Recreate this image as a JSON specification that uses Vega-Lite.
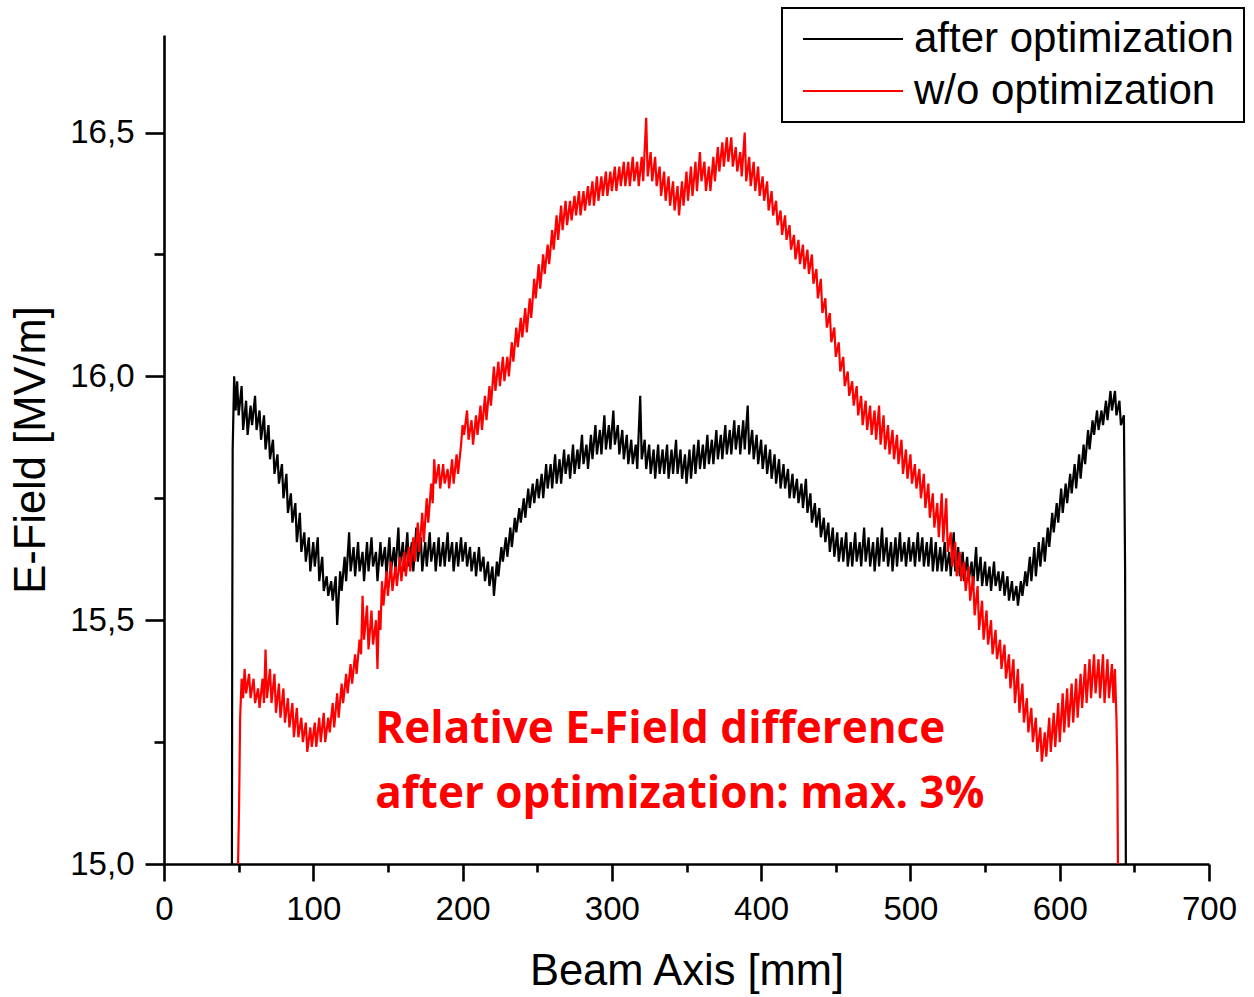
{
"$schema": "https://vega.github.io/schema/vega-lite/v6.json",
"width": 1045, "height": 829,
"autosize": {"type": "none"},
"padding": {"left": 164, "top": 35, "right": 45, "bottom": 133},
"background": "white",
"config": {
  "view": {"stroke": null},
  "axis": {"domainColor": "black", "tickColor": "black", "labelColor": "black", "titleColor": "black", "domainWidth": 2.6, "tickWidth": 2.6, "grid": false, "labelFlush": false, "labelFont": "Liberation Sans", "titleFont": "Liberation Sans", "labelFontSize": 33, "titleFontSize": 43.5, "titleFontWeight": "normal"}
},
"resolve": {"axis": {"x": "independent", "y": "independent"}},
"layer": [
{
"data": {"values": [
{"s":"a","x":45.5,"y":15.0},{"s":"a","x":45.7,"y":15.45},{"s":"a","x":46,"y":15.85},{"s":"a","x":47,"y":16.0},{"s":"a","x":48,"y":15.93},{"s":"a","x":49,"y":15.99},{"s":"a","x":50,"y":15.92},{"s":"a","x":52,"y":15.98},{"s":"a","x":53,"y":15.89},{"s":"a","x":55,"y":15.95},{"s":"a","x":56,"y":15.88},{"s":"a","x":58,"y":15.94},{"s":"a","x":59,"y":15.90},{"s":"a","x":61,"y":15.96},{"s":"a","x":62,"y":15.89},{"s":"a","x":64,"y":15.93},{"s":"a","x":65,"y":15.87},{"s":"a","x":67,"y":15.92},{"s":"a","x":68,"y":15.85},{"s":"a","x":70,"y":15.90},{"s":"a","x":71,"y":15.83},{"s":"a","x":73,"y":15.87},{"s":"a","x":74,"y":15.80},{"s":"a","x":76,"y":15.84},{"s":"a","x":77,"y":15.78},{"s":"a","x":79,"y":15.82},{"s":"a","x":80,"y":15.75},{"s":"a","x":82,"y":15.80},{"s":"a","x":83,"y":15.72},{"s":"a","x":85,"y":15.76},{"s":"a","x":86,"y":15.70},{"s":"a","x":88,"y":15.74},{"s":"a","x":89,"y":15.66},{"s":"a","x":91,"y":15.72},{"s":"a","x":92,"y":15.64},{"s":"a","x":94,"y":15.68},{"s":"a","x":95,"y":15.62},{"s":"a","x":97,"y":15.67},{"s":"a","x":98,"y":15.60},{"s":"a","x":100,"y":15.66},{"s":"a","x":101,"y":15.61},{"s":"a","x":103,"y":15.67},{"s":"a","x":104,"y":15.58},{"s":"a","x":106,"y":15.63},{"s":"a","x":107,"y":15.56},{"s":"a","x":109,"y":15.59},{"s":"a","x":110,"y":15.55},{"s":"a","x":112,"y":15.58},{"s":"a","x":113,"y":15.54},{"s":"a","x":115,"y":15.59},{"s":"a","x":116,"y":15.49},{"s":"a","x":118,"y":15.60},{"s":"a","x":119,"y":15.56},{"s":"a","x":121,"y":15.63},{"s":"a","x":122,"y":15.58},{"s":"a","x":124,"y":15.68},{"s":"a","x":125,"y":15.60},{"s":"a","x":127,"y":15.65},{"s":"a","x":128,"y":15.59},{"s":"a","x":130,"y":15.66},{"s":"a","x":131,"y":15.60},{"s":"a","x":133,"y":15.64},{"s":"a","x":134,"y":15.58},{"s":"a","x":136,"y":15.66},{"s":"a","x":137,"y":15.60},{"s":"a","x":139,"y":15.67},{"s":"a","x":140,"y":15.61},{"s":"a","x":142,"y":15.64},{"s":"a","x":143,"y":15.58},{"s":"a","x":145,"y":15.66},{"s":"a","x":146,"y":15.61},{"s":"a","x":148,"y":15.65},{"s":"a","x":149,"y":15.59},{"s":"a","x":151,"y":15.67},{"s":"a","x":152,"y":15.60},{"s":"a","x":154,"y":15.65},{"s":"a","x":155,"y":15.60},{"s":"a","x":157,"y":15.69},{"s":"a","x":158,"y":15.61},{"s":"a","x":160,"y":15.66},{"s":"a","x":161,"y":15.60},{"s":"a","x":163,"y":15.68},{"s":"a","x":164,"y":15.61},{"s":"a","x":166,"y":15.66},{"s":"a","x":167,"y":15.60},{"s":"a","x":169,"y":15.69},{"s":"a","x":170,"y":15.62},{"s":"a","x":172,"y":15.67},{"s":"a","x":173,"y":15.60},{"s":"a","x":175,"y":15.66},{"s":"a","x":176,"y":15.61},{"s":"a","x":178,"y":15.68},{"s":"a","x":179,"y":15.62},{"s":"a","x":181,"y":15.66},{"s":"a","x":182,"y":15.60},{"s":"a","x":184,"y":15.67},{"s":"a","x":185,"y":15.61},{"s":"a","x":187,"y":15.66},{"s":"a","x":188,"y":15.61},{"s":"a","x":190,"y":15.68},{"s":"a","x":191,"y":15.62},{"s":"a","x":193,"y":15.66},{"s":"a","x":194,"y":15.60},{"s":"a","x":196,"y":15.66},{"s":"a","x":197,"y":15.61},{"s":"a","x":199,"y":15.67},{"s":"a","x":200,"y":15.62},{"s":"a","x":202,"y":15.66},{"s":"a","x":203,"y":15.61},{"s":"a","x":205,"y":15.65},{"s":"a","x":206,"y":15.60},{"s":"a","x":208,"y":15.64},{"s":"a","x":209,"y":15.59},{"s":"a","x":211,"y":15.65},{"s":"a","x":212,"y":15.60},{"s":"a","x":214,"y":15.63},{"s":"a","x":215,"y":15.58},{"s":"a","x":217,"y":15.62},{"s":"a","x":218,"y":15.57},{"s":"a","x":220,"y":15.61},{"s":"a","x":221,"y":15.55},{"s":"a","x":223,"y":15.62},{"s":"a","x":224,"y":15.59},{"s":"a","x":226,"y":15.65},{"s":"a","x":227,"y":15.62},{"s":"a","x":229,"y":15.67},{"s":"a","x":230,"y":15.63},{"s":"a","x":232,"y":15.69},{"s":"a","x":233,"y":15.65},{"s":"a","x":235,"y":15.71},{"s":"a","x":236,"y":15.68},{"s":"a","x":238,"y":15.73},{"s":"a","x":239,"y":15.70},{"s":"a","x":241,"y":15.75},{"s":"a","x":242,"y":15.71},{"s":"a","x":244,"y":15.77},{"s":"a","x":245,"y":15.73},{"s":"a","x":247,"y":15.78},{"s":"a","x":248,"y":15.74},{"s":"a","x":250,"y":15.79},{"s":"a","x":251,"y":15.75},{"s":"a","x":253,"y":15.80},{"s":"a","x":254,"y":15.75},{"s":"a","x":256,"y":15.82},{"s":"a","x":257,"y":15.77},{"s":"a","x":259,"y":15.82},{"s":"a","x":260,"y":15.77},{"s":"a","x":262,"y":15.84},{"s":"a","x":263,"y":15.78},{"s":"a","x":265,"y":15.83},{"s":"a","x":266,"y":15.78},{"s":"a","x":268,"y":15.85},{"s":"a","x":269,"y":15.80},{"s":"a","x":271,"y":15.84},{"s":"a","x":272,"y":15.79},{"s":"a","x":274,"y":15.86},{"s":"a","x":275,"y":15.80},{"s":"a","x":277,"y":15.85},{"s":"a","x":278,"y":15.81},{"s":"a","x":280,"y":15.88},{"s":"a","x":281,"y":15.82},{"s":"a","x":283,"y":15.86},{"s":"a","x":284,"y":15.81},{"s":"a","x":286,"y":15.88},{"s":"a","x":287,"y":15.83},{"s":"a","x":289,"y":15.90},{"s":"a","x":290,"y":15.84},{"s":"a","x":292,"y":15.89},{"s":"a","x":293,"y":15.84},{"s":"a","x":295,"y":15.92},{"s":"a","x":296,"y":15.85},{"s":"a","x":298,"y":15.90},{"s":"a","x":299,"y":15.85},{"s":"a","x":301,"y":15.93},{"s":"a","x":302,"y":15.86},{"s":"a","x":304,"y":15.90},{"s":"a","x":305,"y":15.84},{"s":"a","x":307,"y":15.89},{"s":"a","x":308,"y":15.83},{"s":"a","x":310,"y":15.88},{"s":"a","x":311,"y":15.82},{"s":"a","x":313,"y":15.87},{"s":"a","x":314,"y":15.82},{"s":"a","x":316,"y":15.86},{"s":"a","x":317,"y":15.81},{"s":"a","x":319,"y":15.96},{"s":"a","x":320,"y":15.83},{"s":"a","x":322,"y":15.87},{"s":"a","x":323,"y":15.81},{"s":"a","x":325,"y":15.86},{"s":"a","x":326,"y":15.80},{"s":"a","x":328,"y":15.85},{"s":"a","x":329,"y":15.79},{"s":"a","x":331,"y":15.86},{"s":"a","x":332,"y":15.80},{"s":"a","x":334,"y":15.85},{"s":"a","x":335,"y":15.80},{"s":"a","x":337,"y":15.86},{"s":"a","x":338,"y":15.79},{"s":"a","x":340,"y":15.85},{"s":"a","x":341,"y":15.80},{"s":"a","x":343,"y":15.87},{"s":"a","x":344,"y":15.80},{"s":"a","x":346,"y":15.85},{"s":"a","x":347,"y":15.79},{"s":"a","x":349,"y":15.84},{"s":"a","x":350,"y":15.78},{"s":"a","x":352,"y":15.85},{"s":"a","x":353,"y":15.79},{"s":"a","x":355,"y":15.86},{"s":"a","x":356,"y":15.80},{"s":"a","x":358,"y":15.87},{"s":"a","x":359,"y":15.81},{"s":"a","x":361,"y":15.86},{"s":"a","x":362,"y":15.81},{"s":"a","x":364,"y":15.88},{"s":"a","x":365,"y":15.82},{"s":"a","x":367,"y":15.87},{"s":"a","x":368,"y":15.82},{"s":"a","x":370,"y":15.89},{"s":"a","x":371,"y":15.83},{"s":"a","x":373,"y":15.88},{"s":"a","x":374,"y":15.83},{"s":"a","x":376,"y":15.90},{"s":"a","x":377,"y":15.84},{"s":"a","x":379,"y":15.89},{"s":"a","x":380,"y":15.84},{"s":"a","x":382,"y":15.91},{"s":"a","x":383,"y":15.85},{"s":"a","x":385,"y":15.90},{"s":"a","x":386,"y":15.84},{"s":"a","x":388,"y":15.91},{"s":"a","x":389,"y":15.85},{"s":"a","x":391,"y":15.94},{"s":"a","x":392,"y":15.84},{"s":"a","x":394,"y":15.89},{"s":"a","x":395,"y":15.83},{"s":"a","x":397,"y":15.88},{"s":"a","x":398,"y":15.82},{"s":"a","x":400,"y":15.87},{"s":"a","x":401,"y":15.81},{"s":"a","x":403,"y":15.86},{"s":"a","x":404,"y":15.80},{"s":"a","x":406,"y":15.85},{"s":"a","x":407,"y":15.79},{"s":"a","x":409,"y":15.84},{"s":"a","x":410,"y":15.78},{"s":"a","x":412,"y":15.83},{"s":"a","x":413,"y":15.77},{"s":"a","x":415,"y":15.82},{"s":"a","x":416,"y":15.77},{"s":"a","x":418,"y":15.81},{"s":"a","x":419,"y":15.75},{"s":"a","x":421,"y":15.80},{"s":"a","x":422,"y":15.75},{"s":"a","x":424,"y":15.79},{"s":"a","x":425,"y":15.74},{"s":"a","x":427,"y":15.78},{"s":"a","x":428,"y":15.73},{"s":"a","x":430,"y":15.79},{"s":"a","x":431,"y":15.72},{"s":"a","x":433,"y":15.76},{"s":"a","x":434,"y":15.70},{"s":"a","x":436,"y":15.74},{"s":"a","x":437,"y":15.69},{"s":"a","x":439,"y":15.73},{"s":"a","x":440,"y":15.67},{"s":"a","x":442,"y":15.71},{"s":"a","x":443,"y":15.66},{"s":"a","x":445,"y":15.70},{"s":"a","x":446,"y":15.64},{"s":"a","x":448,"y":15.69},{"s":"a","x":449,"y":15.63},{"s":"a","x":451,"y":15.68},{"s":"a","x":452,"y":15.62},{"s":"a","x":454,"y":15.67},{"s":"a","x":455,"y":15.62},{"s":"a","x":457,"y":15.68},{"s":"a","x":458,"y":15.61},{"s":"a","x":460,"y":15.66},{"s":"a","x":461,"y":15.61},{"s":"a","x":463,"y":15.68},{"s":"a","x":464,"y":15.62},{"s":"a","x":466,"y":15.66},{"s":"a","x":467,"y":15.61},{"s":"a","x":469,"y":15.69},{"s":"a","x":470,"y":15.62},{"s":"a","x":472,"y":15.67},{"s":"a","x":473,"y":15.61},{"s":"a","x":475,"y":15.66},{"s":"a","x":476,"y":15.60},{"s":"a","x":478,"y":15.67},{"s":"a","x":479,"y":15.61},{"s":"a","x":481,"y":15.69},{"s":"a","x":482,"y":15.62},{"s":"a","x":484,"y":15.67},{"s":"a","x":485,"y":15.61},{"s":"a","x":487,"y":15.66},{"s":"a","x":488,"y":15.60},{"s":"a","x":490,"y":15.67},{"s":"a","x":491,"y":15.61},{"s":"a","x":493,"y":15.68},{"s":"a","x":494,"y":15.62},{"s":"a","x":496,"y":15.66},{"s":"a","x":497,"y":15.61},{"s":"a","x":499,"y":15.67},{"s":"a","x":500,"y":15.62},{"s":"a","x":502,"y":15.66},{"s":"a","x":503,"y":15.61},{"s":"a","x":505,"y":15.68},{"s":"a","x":506,"y":15.62},{"s":"a","x":508,"y":15.67},{"s":"a","x":509,"y":15.61},{"s":"a","x":511,"y":15.66},{"s":"a","x":512,"y":15.61},{"s":"a","x":514,"y":15.67},{"s":"a","x":515,"y":15.60},{"s":"a","x":517,"y":15.66},{"s":"a","x":518,"y":15.60},{"s":"a","x":520,"y":15.65},{"s":"a","x":521,"y":15.60},{"s":"a","x":523,"y":15.66},{"s":"a","x":524,"y":15.60},{"s":"a","x":526,"y":15.64},{"s":"a","x":527,"y":15.59},{"s":"a","x":529,"y":15.68},{"s":"a","x":530,"y":15.60},{"s":"a","x":532,"y":15.65},{"s":"a","x":533,"y":15.59},{"s":"a","x":535,"y":15.64},{"s":"a","x":536,"y":15.58},{"s":"a","x":538,"y":15.63},{"s":"a","x":539,"y":15.58},{"s":"a","x":541,"y":15.62},{"s":"a","x":542,"y":15.57},{"s":"a","x":544,"y":15.65},{"s":"a","x":545,"y":15.58},{"s":"a","x":547,"y":15.63},{"s":"a","x":548,"y":15.57},{"s":"a","x":550,"y":15.62},{"s":"a","x":551,"y":15.57},{"s":"a","x":553,"y":15.61},{"s":"a","x":554,"y":15.56},{"s":"a","x":556,"y":15.62},{"s":"a","x":557,"y":15.57},{"s":"a","x":559,"y":15.60},{"s":"a","x":560,"y":15.56},{"s":"a","x":562,"y":15.60},{"s":"a","x":563,"y":15.55},{"s":"a","x":565,"y":15.59},{"s":"a","x":566,"y":15.54},{"s":"a","x":568,"y":15.58},{"s":"a","x":569,"y":15.54},{"s":"a","x":571,"y":15.57},{"s":"a","x":572,"y":15.53},{"s":"a","x":574,"y":15.58},{"s":"a","x":575,"y":15.55},{"s":"a","x":577,"y":15.60},{"s":"a","x":578,"y":15.57},{"s":"a","x":580,"y":15.63},{"s":"a","x":581,"y":15.58},{"s":"a","x":583,"y":15.65},{"s":"a","x":584,"y":15.59},{"s":"a","x":586,"y":15.66},{"s":"a","x":587,"y":15.61},{"s":"a","x":589,"y":15.67},{"s":"a","x":590,"y":15.62},{"s":"a","x":592,"y":15.69},{"s":"a","x":593,"y":15.65},{"s":"a","x":595,"y":15.72},{"s":"a","x":596,"y":15.68},{"s":"a","x":598,"y":15.74},{"s":"a","x":599,"y":15.70},{"s":"a","x":601,"y":15.77},{"s":"a","x":602,"y":15.72},{"s":"a","x":604,"y":15.78},{"s":"a","x":605,"y":15.74},{"s":"a","x":607,"y":15.80},{"s":"a","x":608,"y":15.76},{"s":"a","x":610,"y":15.82},{"s":"a","x":611,"y":15.77},{"s":"a","x":613,"y":15.84},{"s":"a","x":614,"y":15.79},{"s":"a","x":616,"y":15.86},{"s":"a","x":617,"y":15.82},{"s":"a","x":619,"y":15.89},{"s":"a","x":620,"y":15.85},{"s":"a","x":622,"y":15.91},{"s":"a","x":623,"y":15.88},{"s":"a","x":625,"y":15.93},{"s":"a","x":626,"y":15.89},{"s":"a","x":628,"y":15.93},{"s":"a","x":629,"y":15.90},{"s":"a","x":631,"y":15.95},{"s":"a","x":632,"y":15.91},{"s":"a","x":634,"y":15.97},{"s":"a","x":635,"y":15.93},{"s":"a","x":637,"y":15.97},{"s":"a","x":638,"y":15.92},{"s":"a","x":640,"y":15.95},{"s":"a","x":641,"y":15.90},{"s":"a","x":643,"y":15.92},{"s":"a","x":643.8,"y":15.60},{"s":"a","x":644.3,"y":15.0},
{"s":"b","x":49.6,"y":15.0},{"s":"b","x":50.3,"y":15.12},{"s":"b","x":51,"y":15.30},{"s":"b","x":52,"y":15.38},{"s":"b","x":53,"y":15.34},{"s":"b","x":54,"y":15.40},{"s":"b","x":55,"y":15.35},{"s":"b","x":57,"y":15.39},{"s":"b","x":58,"y":15.34},{"s":"b","x":60,"y":15.38},{"s":"b","x":61,"y":15.33},{"s":"b","x":63,"y":15.36},{"s":"b","x":64,"y":15.32},{"s":"b","x":66,"y":15.38},{"s":"b","x":67,"y":15.33},{"s":"b","x":68,"y":15.44},{"s":"b","x":69,"y":15.34},{"s":"b","x":71,"y":15.40},{"s":"b","x":72,"y":15.33},{"s":"b","x":74,"y":15.39},{"s":"b","x":75,"y":15.31},{"s":"b","x":77,"y":15.37},{"s":"b","x":78,"y":15.30},{"s":"b","x":80,"y":15.36},{"s":"b","x":81,"y":15.29},{"s":"b","x":83,"y":15.34},{"s":"b","x":84,"y":15.28},{"s":"b","x":86,"y":15.33},{"s":"b","x":87,"y":15.26},{"s":"b","x":89,"y":15.32},{"s":"b","x":90,"y":15.26},{"s":"b","x":92,"y":15.30},{"s":"b","x":93,"y":15.25},{"s":"b","x":95,"y":15.29},{"s":"b","x":96,"y":15.23},{"s":"b","x":98,"y":15.28},{"s":"b","x":99,"y":15.24},{"s":"b","x":101,"y":15.29},{"s":"b","x":102,"y":15.24},{"s":"b","x":104,"y":15.30},{"s":"b","x":105,"y":15.25},{"s":"b","x":107,"y":15.31},{"s":"b","x":108,"y":15.25},{"s":"b","x":110,"y":15.30},{"s":"b","x":111,"y":15.27},{"s":"b","x":113,"y":15.33},{"s":"b","x":114,"y":15.28},{"s":"b","x":116,"y":15.35},{"s":"b","x":117,"y":15.30},{"s":"b","x":119,"y":15.37},{"s":"b","x":120,"y":15.33},{"s":"b","x":122,"y":15.39},{"s":"b","x":123,"y":15.35},{"s":"b","x":125,"y":15.41},{"s":"b","x":126,"y":15.37},{"s":"b","x":128,"y":15.43},{"s":"b","x":129,"y":15.39},{"s":"b","x":131,"y":15.46},{"s":"b","x":132,"y":15.43},{"s":"b","x":133,"y":15.55},{"s":"b","x":134,"y":15.46},{"s":"b","x":136,"y":15.53},{"s":"b","x":137,"y":15.44},{"s":"b","x":139,"y":15.52},{"s":"b","x":140,"y":15.45},{"s":"b","x":142,"y":15.50},{"s":"b","x":143,"y":15.40},{"s":"b","x":144,"y":15.52},{"s":"b","x":145,"y":15.48},{"s":"b","x":146,"y":15.58},{"s":"b","x":147,"y":15.53},{"s":"b","x":149,"y":15.60},{"s":"b","x":150,"y":15.55},{"s":"b","x":152,"y":15.62},{"s":"b","x":153,"y":15.56},{"s":"b","x":155,"y":15.61},{"s":"b","x":156,"y":15.57},{"s":"b","x":158,"y":15.63},{"s":"b","x":159,"y":15.58},{"s":"b","x":161,"y":15.64},{"s":"b","x":162,"y":15.59},{"s":"b","x":164,"y":15.65},{"s":"b","x":165,"y":15.60},{"s":"b","x":167,"y":15.67},{"s":"b","x":168,"y":15.62},{"s":"b","x":170,"y":15.70},{"s":"b","x":171,"y":15.64},{"s":"b","x":173,"y":15.72},{"s":"b","x":174,"y":15.66},{"s":"b","x":176,"y":15.75},{"s":"b","x":177,"y":15.70},{"s":"b","x":179,"y":15.78},{"s":"b","x":180,"y":15.74},{"s":"b","x":181,"y":15.83},{"s":"b","x":182,"y":15.78},{"s":"b","x":184,"y":15.82},{"s":"b","x":185,"y":15.77},{"s":"b","x":187,"y":15.82},{"s":"b","x":188,"y":15.78},{"s":"b","x":190,"y":15.81},{"s":"b","x":191,"y":15.77},{"s":"b","x":193,"y":15.83},{"s":"b","x":194,"y":15.78},{"s":"b","x":196,"y":15.84},{"s":"b","x":197,"y":15.80},{"s":"b","x":199,"y":15.86},{"s":"b","x":200,"y":15.90},{"s":"b","x":201,"y":15.88},{"s":"b","x":203,"y":15.93},{"s":"b","x":204,"y":15.87},{"s":"b","x":206,"y":15.91},{"s":"b","x":207,"y":15.86},{"s":"b","x":209,"y":15.92},{"s":"b","x":210,"y":15.88},{"s":"b","x":212,"y":15.94},{"s":"b","x":213,"y":15.89},{"s":"b","x":215,"y":15.96},{"s":"b","x":216,"y":15.91},{"s":"b","x":218,"y":15.98},{"s":"b","x":219,"y":15.94},{"s":"b","x":221,"y":16.02},{"s":"b","x":222,"y":15.97},{"s":"b","x":224,"y":16.03},{"s":"b","x":225,"y":15.98},{"s":"b","x":227,"y":16.04},{"s":"b","x":228,"y":15.99},{"s":"b","x":230,"y":16.04},{"s":"b","x":231,"y":16.00},{"s":"b","x":233,"y":16.07},{"s":"b","x":234,"y":16.03},{"s":"b","x":236,"y":16.10},{"s":"b","x":237,"y":16.06},{"s":"b","x":239,"y":16.12},{"s":"b","x":240,"y":16.08},{"s":"b","x":242,"y":16.14},{"s":"b","x":243,"y":16.09},{"s":"b","x":245,"y":16.16},{"s":"b","x":246,"y":16.12},{"s":"b","x":248,"y":16.20},{"s":"b","x":249,"y":16.16},{"s":"b","x":251,"y":16.23},{"s":"b","x":252,"y":16.18},{"s":"b","x":254,"y":16.25},{"s":"b","x":255,"y":16.21},{"s":"b","x":257,"y":16.27},{"s":"b","x":258,"y":16.23},{"s":"b","x":260,"y":16.30},{"s":"b","x":261,"y":16.26},{"s":"b","x":263,"y":16.33},{"s":"b","x":264,"y":16.28},{"s":"b","x":266,"y":16.35},{"s":"b","x":267,"y":16.30},{"s":"b","x":269,"y":16.36},{"s":"b","x":270,"y":16.31},{"s":"b","x":272,"y":16.36},{"s":"b","x":273,"y":16.32},{"s":"b","x":275,"y":16.37},{"s":"b","x":276,"y":16.33},{"s":"b","x":278,"y":16.38},{"s":"b","x":279,"y":16.33},{"s":"b","x":281,"y":16.38},{"s":"b","x":282,"y":16.34},{"s":"b","x":284,"y":16.39},{"s":"b","x":285,"y":16.35},{"s":"b","x":287,"y":16.40},{"s":"b","x":288,"y":16.35},{"s":"b","x":290,"y":16.41},{"s":"b","x":291,"y":16.36},{"s":"b","x":293,"y":16.41},{"s":"b","x":294,"y":16.37},{"s":"b","x":296,"y":16.42},{"s":"b","x":297,"y":16.37},{"s":"b","x":299,"y":16.42},{"s":"b","x":300,"y":16.38},{"s":"b","x":302,"y":16.43},{"s":"b","x":303,"y":16.38},{"s":"b","x":305,"y":16.43},{"s":"b","x":306,"y":16.39},{"s":"b","x":308,"y":16.44},{"s":"b","x":309,"y":16.39},{"s":"b","x":311,"y":16.44},{"s":"b","x":312,"y":16.39},{"s":"b","x":314,"y":16.45},{"s":"b","x":315,"y":16.40},{"s":"b","x":317,"y":16.44},{"s":"b","x":318,"y":16.39},{"s":"b","x":320,"y":16.45},{"s":"b","x":321,"y":16.40},{"s":"b","x":323,"y":16.53},{"s":"b","x":324,"y":16.41},{"s":"b","x":326,"y":16.46},{"s":"b","x":327,"y":16.40},{"s":"b","x":329,"y":16.45},{"s":"b","x":330,"y":16.39},{"s":"b","x":332,"y":16.43},{"s":"b","x":333,"y":16.37},{"s":"b","x":335,"y":16.42},{"s":"b","x":336,"y":16.36},{"s":"b","x":338,"y":16.41},{"s":"b","x":339,"y":16.35},{"s":"b","x":341,"y":16.40},{"s":"b","x":342,"y":16.34},{"s":"b","x":344,"y":16.39},{"s":"b","x":345,"y":16.33},{"s":"b","x":347,"y":16.40},{"s":"b","x":348,"y":16.35},{"s":"b","x":350,"y":16.42},{"s":"b","x":351,"y":16.36},{"s":"b","x":353,"y":16.43},{"s":"b","x":354,"y":16.37},{"s":"b","x":356,"y":16.44},{"s":"b","x":357,"y":16.38},{"s":"b","x":359,"y":16.46},{"s":"b","x":360,"y":16.40},{"s":"b","x":362,"y":16.44},{"s":"b","x":363,"y":16.38},{"s":"b","x":365,"y":16.43},{"s":"b","x":366,"y":16.38},{"s":"b","x":368,"y":16.45},{"s":"b","x":369,"y":16.40},{"s":"b","x":371,"y":16.47},{"s":"b","x":372,"y":16.42},{"s":"b","x":374,"y":16.48},{"s":"b","x":375,"y":16.43},{"s":"b","x":377,"y":16.49},{"s":"b","x":378,"y":16.44},{"s":"b","x":380,"y":16.49},{"s":"b","x":381,"y":16.43},{"s":"b","x":383,"y":16.47},{"s":"b","x":384,"y":16.42},{"s":"b","x":386,"y":16.46},{"s":"b","x":387,"y":16.41},{"s":"b","x":389,"y":16.50},{"s":"b","x":390,"y":16.40},{"s":"b","x":392,"y":16.45},{"s":"b","x":393,"y":16.39},{"s":"b","x":395,"y":16.44},{"s":"b","x":396,"y":16.38},{"s":"b","x":398,"y":16.43},{"s":"b","x":399,"y":16.37},{"s":"b","x":401,"y":16.41},{"s":"b","x":402,"y":16.36},{"s":"b","x":404,"y":16.40},{"s":"b","x":405,"y":16.34},{"s":"b","x":407,"y":16.38},{"s":"b","x":408,"y":16.33},{"s":"b","x":410,"y":16.36},{"s":"b","x":411,"y":16.31},{"s":"b","x":413,"y":16.34},{"s":"b","x":414,"y":16.29},{"s":"b","x":416,"y":16.33},{"s":"b","x":417,"y":16.28},{"s":"b","x":419,"y":16.31},{"s":"b","x":420,"y":16.26},{"s":"b","x":422,"y":16.29},{"s":"b","x":423,"y":16.24},{"s":"b","x":425,"y":16.28},{"s":"b","x":426,"y":16.23},{"s":"b","x":428,"y":16.27},{"s":"b","x":429,"y":16.22},{"s":"b","x":431,"y":16.26},{"s":"b","x":432,"y":16.21},{"s":"b","x":434,"y":16.25},{"s":"b","x":435,"y":16.19},{"s":"b","x":437,"y":16.22},{"s":"b","x":438,"y":16.16},{"s":"b","x":440,"y":16.20},{"s":"b","x":441,"y":16.13},{"s":"b","x":443,"y":16.16},{"s":"b","x":444,"y":16.10},{"s":"b","x":446,"y":16.13},{"s":"b","x":447,"y":16.07},{"s":"b","x":449,"y":16.10},{"s":"b","x":450,"y":16.04},{"s":"b","x":452,"y":16.07},{"s":"b","x":453,"y":16.01},{"s":"b","x":455,"y":16.04},{"s":"b","x":456,"y":15.98},{"s":"b","x":458,"y":16.01},{"s":"b","x":459,"y":15.96},{"s":"b","x":461,"y":15.99},{"s":"b","x":462,"y":15.94},{"s":"b","x":464,"y":15.98},{"s":"b","x":465,"y":15.92},{"s":"b","x":467,"y":15.96},{"s":"b","x":468,"y":15.90},{"s":"b","x":470,"y":15.95},{"s":"b","x":471,"y":15.89},{"s":"b","x":473,"y":15.94},{"s":"b","x":474,"y":15.88},{"s":"b","x":476,"y":15.93},{"s":"b","x":477,"y":15.87},{"s":"b","x":479,"y":15.94},{"s":"b","x":480,"y":15.86},{"s":"b","x":482,"y":15.92},{"s":"b","x":483,"y":15.85},{"s":"b","x":485,"y":15.90},{"s":"b","x":486,"y":15.84},{"s":"b","x":488,"y":15.89},{"s":"b","x":489,"y":15.83},{"s":"b","x":491,"y":15.88},{"s":"b","x":492,"y":15.82},{"s":"b","x":494,"y":15.87},{"s":"b","x":495,"y":15.80},{"s":"b","x":497,"y":15.85},{"s":"b","x":498,"y":15.79},{"s":"b","x":500,"y":15.84},{"s":"b","x":501,"y":15.78},{"s":"b","x":503,"y":15.82},{"s":"b","x":504,"y":15.77},{"s":"b","x":506,"y":15.81},{"s":"b","x":507,"y":15.75},{"s":"b","x":509,"y":15.80},{"s":"b","x":510,"y":15.73},{"s":"b","x":512,"y":15.78},{"s":"b","x":513,"y":15.71},{"s":"b","x":515,"y":15.76},{"s":"b","x":516,"y":15.69},{"s":"b","x":518,"y":15.74},{"s":"b","x":519,"y":15.67},{"s":"b","x":521,"y":15.76},{"s":"b","x":522,"y":15.66},{"s":"b","x":524,"y":15.75},{"s":"b","x":525,"y":15.64},{"s":"b","x":527,"y":15.68},{"s":"b","x":528,"y":15.61},{"s":"b","x":530,"y":15.66},{"s":"b","x":531,"y":15.59},{"s":"b","x":533,"y":15.64},{"s":"b","x":534,"y":15.58},{"s":"b","x":536,"y":15.62},{"s":"b","x":537,"y":15.56},{"s":"b","x":539,"y":15.61},{"s":"b","x":540,"y":15.54},{"s":"b","x":542,"y":15.59},{"s":"b","x":543,"y":15.51},{"s":"b","x":545,"y":15.57},{"s":"b","x":546,"y":15.48},{"s":"b","x":548,"y":15.54},{"s":"b","x":549,"y":15.46},{"s":"b","x":551,"y":15.52},{"s":"b","x":552,"y":15.45},{"s":"b","x":554,"y":15.50},{"s":"b","x":555,"y":15.43},{"s":"b","x":557,"y":15.48},{"s":"b","x":558,"y":15.42},{"s":"b","x":560,"y":15.46},{"s":"b","x":561,"y":15.40},{"s":"b","x":563,"y":15.45},{"s":"b","x":564,"y":15.38},{"s":"b","x":566,"y":15.43},{"s":"b","x":567,"y":15.36},{"s":"b","x":569,"y":15.42},{"s":"b","x":570,"y":15.33},{"s":"b","x":572,"y":15.40},{"s":"b","x":573,"y":15.31},{"s":"b","x":575,"y":15.37},{"s":"b","x":576,"y":15.29},{"s":"b","x":578,"y":15.34},{"s":"b","x":579,"y":15.27},{"s":"b","x":581,"y":15.32},{"s":"b","x":582,"y":15.25},{"s":"b","x":584,"y":15.30},{"s":"b","x":585,"y":15.23},{"s":"b","x":587,"y":15.28},{"s":"b","x":588,"y":15.21},{"s":"b","x":590,"y":15.27},{"s":"b","x":591,"y":15.22},{"s":"b","x":593,"y":15.30},{"s":"b","x":594,"y":15.23},{"s":"b","x":596,"y":15.31},{"s":"b","x":597,"y":15.24},{"s":"b","x":599,"y":15.33},{"s":"b","x":600,"y":15.25},{"s":"b","x":602,"y":15.35},{"s":"b","x":603,"y":15.27},{"s":"b","x":605,"y":15.36},{"s":"b","x":606,"y":15.28},{"s":"b","x":608,"y":15.37},{"s":"b","x":609,"y":15.29},{"s":"b","x":611,"y":15.38},{"s":"b","x":612,"y":15.30},{"s":"b","x":614,"y":15.39},{"s":"b","x":615,"y":15.32},{"s":"b","x":617,"y":15.41},{"s":"b","x":618,"y":15.33},{"s":"b","x":620,"y":15.42},{"s":"b","x":621,"y":15.34},{"s":"b","x":623,"y":15.43},{"s":"b","x":624,"y":15.35},{"s":"b","x":626,"y":15.42},{"s":"b","x":627,"y":15.34},{"s":"b","x":629,"y":15.43},{"s":"b","x":630,"y":15.33},{"s":"b","x":632,"y":15.42},{"s":"b","x":633,"y":15.34},{"s":"b","x":635,"y":15.41},{"s":"b","x":636,"y":15.33},{"s":"b","x":637,"y":15.40},{"s":"b","x":638,"y":15.30},{"s":"b","x":638.6,"y":15.20},{"s":"b","x":639,"y":15.0}
]},
"mark": {"type": "line", "strokeWidth": 2.2},
"encoding": {
  "x": {"field": "x", "type": "quantitative", "scale": {"domain": [0, 700], "nice": false, "zero": false},
        "axis": {"orient": "bottom", "values": [0,100,200,300,400,500,600,700], "tickSize": 17, "labelPadding": 12, "format": "d", "title": "Beam Axis [mm]", "titlePadding": 24}},
  "y": {"field": "y", "type": "quantitative", "scale": {"domain": [15, 16.7], "nice": false, "zero": false},
        "axis": {"orient": "left", "values": [15, 15.5, 16, 16.5], "tickSize": 19, "labelPadding": 11, "labelExpr": "replace(format(datum.value, '.1f'), '.', ',')", "title": "E-Field [MV/m]", "titlePadding": 16}},
  "color": {"field": "s", "type": "nominal", "scale": {"domain": ["a", "b"], "range": ["#000000", "#ff0000"]},
    "legend": {"orient": "none", "legendX": 618, "legendY": -27, "title": null, "padding": 10, "fillColor": "white", "strokeColor": "black", "cornerRadius": 0,
      "symbolType": "M-5,0H5", "symbolSize": 400, "symbolStrokeWidth": 2, "symbolOffset": 40, "labelFont": "Liberation Sans", "labelFontSize": 42, "labelColor": "black", "labelOffset": 40, "labelLimit": 0, "rowPadding": 10,
      "labelExpr": "datum.value == 'a' ? 'after optimization' : 'w/o optimization'",
      "encode": {"legend": {"update": {"strokeWidth": {"value": 2}}}}}}
}
},
{
"data": {"values": [
  {"x": 141.5, "y": 15.248, "t": "Relative E-Field difference"},
  {"x": 141.5, "y": 15.115, "t": "after optimization: max. 3%"}
]},
"mark": {"type": "text", "align": "left", "baseline": "alphabetic", "font": "Open Sans", "fontWeight": "bold", "fontSize": 44, "color": "#ff0000"},
"encoding": {
  "x": {"field": "x", "type": "quantitative", "axis": {"orient": "bottom", "values": [50,150,250,350,450,550,650], "tickSize": 8, "labels": false, "domain": false, "title": null}},
  "y": {"field": "y", "type": "quantitative", "axis": {"orient": "left", "values": [15.25, 15.75, 16.25], "tickSize": 10, "labels": false, "domain": false, "title": null}},
  "text": {"field": "t"}
}
}
]
}
